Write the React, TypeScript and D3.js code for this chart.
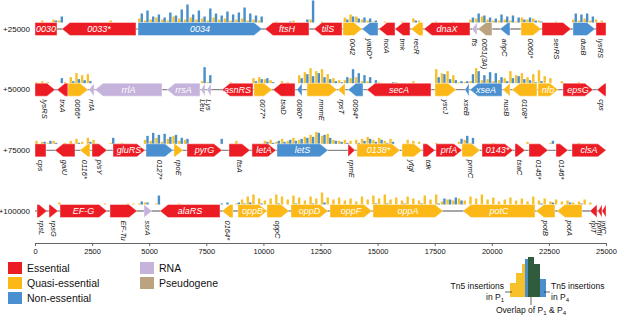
import React, { useEffect, useRef } from 'react';
import * as d3 from 'd3';

const FONT = '"Liberation Sans", Arial, Helvetica, sans-serif';

const ROW_LABELS = ['+25000', '+50000', '+75000', '+100000'];
const AXIS_TICKS = [0, 2500, 5000, 7500, 10000, 12500, 15000, 17500, 20000, 22500, 25000];

const COLORS: Record<string, string> = {
  E: '#EC1C24',
  Q: '#FBB817',
  N: '#4A8FD0',
  R: '#C6B3DC',
  P: '#BCA37F',
};
const HIST_P1 = '#F6C12A';
const HIST_P4 = '#4A8FC9';
const HIST_BOTH = '#2F5C3C';

// [name, start(bp), end(bp), strand (1, -1, 0 = box), class, label inside (1) / below (0)]
type Gene = [string, number, number, number, string, number];

const row1Genes: Gene[] = [
  ['0030', 0, 963, 0, 'E', 1],
  ['0033*', 1182, 4422, -1, 'E', 1],
  ['0034', 4509, 9938, 1, 'N', 1],
  ['ftsH', 10070, 11996, -1, 'E', 1],
  ['tilS', 12215, 13441, -1, 'E', 1],
  ['0042', 13485, 14317, 1, 'Q', 0],
  ['yabD*', 14317, 15017, -1, 'N', 0],
  ['holA', 15061, 15761, -1, 'E', 0],
  ['tmk', 15761, 16418, -1, 'E', 0],
  ['recR', 16462, 16987, -1, 'Q', 0],
  ['dnaX', 17031, 19045, -1, 'E', 1],
  ['ffs', 19132, 19351, -1, 'R', 0],
  ['0051(3A)', 19395, 20008, -1, 'P', 0],
  ['ahpC', 20358, 20796, -1, 'N', 0],
  ['0060*', 21278, 22154, 1, 'Q', 0],
  ['serRS', 22197, 23467, 1, 'E', 0],
  ['dusB', 23555, 24518, 1, 'N', 0],
  ['lysRS', 24562, 25000, 0, 'E', 0],
];

const row2Genes: Gene[] = [
  ['lysRS', 0, 876, 1, 'E', 0],
  ['trxA', 963, 1445, -1, 'E', 0],
  ['0066*', 1445, 2320, 1, 'Q', 0],
  ['rrfA', 2364, 2583, -1, 'R', 0],
  ['rrlA', 2627, 5560, -1, 'R', 1],
  ['rrsA', 5779, 7224, -1, 'R', 1],
  ['Leu', 7267, 7443, -1, 'R', 0],
  ['Lys', 7530, 7705, -1, 'R', 0],
  ['asnRS', 8187, 9544, -1, 'E', 1],
  ['0077*', 9588, 10376, 1, 'Q', 0],
  ['tsaD', 10420, 11383, -1, 'E', 0],
  ['0080*', 11471, 11690, -1, 'N', 0],
  ['mnmE', 11909, 13222, 1, 'Q', 0],
  ['rpsT', 13266, 13572, -1, 'Q', 0],
  ['0094*', 13704, 14361, -1, 'N', 0],
  ['secA', 14536, 17338, -1, 'E', 1],
  ['yscJ', 17513, 18432, 1, 'Q', 0],
  ['xseB', 18826, 19001, -1, 'N', 0],
  ['xseA', 19045, 20446, -1, 'N', 1],
  ['nusB', 20489, 20796, -1, 'Q', 0],
  ['0108*', 20884, 21978, -1, 'Q', 0],
  ['nfo', 22022, 22898, 1, 'Q', 1],
  ['epsG', 23116, 24430, 1, 'E', 1],
  ['cps', 24605, 25000, -1, 'E', 0],
];

const row3Genes: Gene[] = [
  ['cps', 0, 482, 0, 'E', 0],
  ['galU', 876, 1751, -1, 'E', 0],
  ['0116*', 1970, 2408, -1, 'Q', 0],
  ['plsY', 2495, 3152, 1, 'E', 0],
  ['gluRS', 3415, 4816, 1, 'E', 1],
  ['0127*', 4860, 6042, 1, 'N', 0],
  ['rpoE', 6085, 6479, 1, 'Q', 0],
  ['pyrG', 6654, 8187, 1, 'E', 1],
  ['ftsA', 8494, 9413, 1, 'E', 0],
  ['letA', 9500, 10551, 1, 'E', 1],
  ['letS', 10595, 12828, 1, 'N', 1],
  ['rpmE', 13704, 14010, 1, 'E', 0],
  ['0138*', 14098, 15980, 1, 'Q', 1],
  ['yfgI', 16068, 16944, 1, 'Q', 0],
  ['tdk', 16987, 17513, 1, 'E', 0],
  ['prfA', 17556, 18694, 1, 'E', 1],
  ['prmC', 18694, 19482, 1, 'Q', 0],
  ['0143*', 19570, 20927, 1, 'E', 1],
  ['tsaC', 21015, 21453, 1, 'E', 0],
  ['0145*', 21628, 22460, 1, 'E', 0],
  ['0146*', 22810, 23336, 1, 'E', 0],
  ['clsA', 23511, 25000, 1, 'E', 1],
];

const row4Genes: Gene[] = [
  ['rpsL', 88, 525, 1, 'E', 0],
  ['rpsG', 613, 1007, 1, 'E', 0],
  ['EF-G', 1095, 3152, 1, 'E', 1],
  ['EF-Tu', 3283, 4466, 1, 'E', 0],
  ['ssrA', 4772, 5122, 1, 'R', 0],
  ['alaRS', 5473, 8100, -1, 'E', 1],
  ['0164*', 8187, 8669, -1, 'Q', 0],
  ['oppB', 8887, 10157, 1, 'Q', 1],
  ['oppC', 10157, 11120, 1, 'Q', 0],
  ['oppD', 11208, 12828, 1, 'Q', 1],
  ['oppF', 12915, 14754, 1, 'Q', 1],
  ['oppA', 14798, 17863, 1, 'Q', 1],
  ['potC', 18738, 21891, -1, 'Q', 1],
  ['potB', 21935, 22767, -1, 'Q', 0],
  ['potA', 22854, 23949, -1, 'Q', 0],
  ['rplT', 24299, 24605, -1, 'E', 0],
  ['rpmI', 24649, 24824, -1, 'E', 0],
  ['infC', 24824, 25000, -1, 'E', 0],
];

// Tn5 insertion counts per 250-bp bin (100 bins per row)
const row1P1 = [
  0, 2, 0, 3, 2, 0, 0, 0, 0, 0, 0, 0, 0, 2, 0, 0, 0, 0, 4, 2,
  3, 5, 3, 2, 6, 4, 3, 5, 3, 4, 2, 5, 3, 4, 2, 3, 4, 2, 3, 2,
  0, 0, 1, 0, 0, 2, 0, 0, 3, 0, 1, 0, 0, 0, 5, 8, 6, 3, 2, 1,
  0, 1, 0, 0, 1, 0, 4, 2, 0, 0, 1, 0, 0, 1, 0, 0, 3, 4, 6, 3,
  2, 2, 3, 2, 1, 5, 3, 4, 2, 0, 0, 1, 0, 0, 3, 2, 4, 2, 3, 2,
];
const row1P4 = [
  0, 0, 0, 2, 6, 0, 0, 0, 0, 0, 0, 0, 0, 0, 0, 0, 0, 0, 9, 12,
  6, 8, 5, 10, 7, 13, 18, 8, 12, 6, 14, 9, 7, 11, 8, 10, 15, 9, 7, 6,
  0, 0, 0, 0, 1, 0, 0, 3, 22, 0, 0, 0, 0, 0, 3, 6, 4, 5, 4, 2,
  0, 0, 0, 0, 0, 0, 2, 0, 0, 0, 0, 0, 0, 0, 0, 0, 5, 9, 7, 5,
  4, 8, 6, 7, 5, 3, 5, 2, 1, 0, 0, 0, 0, 0, 9, 8, 9, 6, 0, 0,
];
const row2P1 = [
  1, 2, 1, 0, 0, 1, 6, 10, 8, 9, 0, 0, 0, 0, 0, 0, 0, 0, 0, 0,
  0, 0, 0, 0, 0, 0, 0, 0, 0, 2, 1, 0, 0, 0, 1, 0, 0, 0, 5, 6,
  4, 3, 0, 2, 1, 0, 8, 11, 15, 12, 14, 9, 5, 3, 3, 5, 6, 2, 2, 0,
  1, 0, 0, 1, 0, 0, 2, 0, 0, 0, 14, 10, 12, 8, 1, 1, 2, 15, 3, 4,
  2, 3, 5, 12, 8, 10, 6, 9, 13, 7, 5, 0, 2, 0, 0, 1, 0, 0, 0, 0,
];
const row2P4 = [
  0, 0, 0, 0, 5, 0, 2, 4, 3, 2, 0, 0, 0, 0, 0, 0, 0, 0, 0, 0,
  0, 0, 0, 0, 0, 0, 0, 0, 0, 16, 8, 0, 0, 0, 0, 0, 0, 0, 2, 4,
  5, 1, 0, 0, 0, 0, 5, 9, 7, 10, 6, 4, 2, 1, 6, 14, 10, 8, 6, 3,
  0, 0, 1, 0, 0, 0, 0, 0, 0, 0, 6, 9, 4, 3, 2, 2, 9, 12, 8, 11,
  10, 6, 2, 5, 7, 4, 3, 1, 2, 0, 0, 0, 0, 0, 0, 0, 0, 0, 0, 0,
];
const row3P1 = [
  3, 2, 1, 3, 0, 1, 3, 5, 2, 6, 4, 0, 0, 1, 0, 1, 0, 0, 0, 4,
  3, 6, 2, 5, 8, 3, 4, 0, 0, 0, 0, 0, 0, 0, 0, 3, 0, 0, 0, 0,
  3, 4, 2, 5, 3, 6, 4, 7, 9, 12, 8, 10, 4, 3, 4, 3, 4, 5, 7, 4,
  6, 3, 5, 0, 0, 4, 3, 2, 0, 0, 1, 0, 0, 0, 2, 4, 1, 0, 0, 0,
  1, 0, 0, 0, 0, 0, 2, 0, 0, 0, 1, 0, 0, 0, 0, 1, 0, 0, 0, 0,
];
const row3P4 = [
  0, 2, 3, 1, 0, 0, 0, 1, 0, 2, 0, 0, 0, 6, 0, 0, 0, 0, 0, 8,
  11, 9, 10, 7, 9, 6, 5, 0, 0, 0, 0, 0, 5, 0, 0, 0, 0, 0, 0, 0,
  2, 1, 3, 2, 4, 3, 5, 6, 7, 11, 9, 6, 3, 2, 1, 0, 1, 3, 5, 2,
  4, 1, 2, 0, 0, 0, 0, 0, 0, 0, 0, 0, 0, 0, 5, 8, 6, 0, 0, 0,
  0, 0, 0, 0, 0, 0, 0, 0, 0, 0, 3, 0, 0, 0, 0, 0, 0, 0, 0, 0,
];
const row4P1 = [
  0, 0, 0, 0, 2, 0, 0, 0, 0, 0, 0, 0, 1, 0, 0, 0, 1, 1, 1, 2,
  0, 1, 0, 0, 0, 1, 0, 0, 0, 0, 0, 0, 0, 0, 0, 1, 5, 8, 10, 6,
  4, 6, 10, 8, 5, 9, 7, 4, 8, 6, 12, 7, 5, 7, 4, 6, 3, 8, 5, 9,
  6, 10, 5, 7, 4, 8, 6, 4, 9, 5, 10, 3, 5, 4, 6, 4, 8, 6, 10, 5,
  7, 3, 5, 7, 4, 6, 3, 8, 4, 6, 3, 5, 3, 4, 2, 3, 5, 2, 0, 0,
];
const row4P4 = [
  0, 0, 0, 0, 0, 0, 0, 0, 0, 0, 0, 0, 0, 0, 0, 0, 0, 0, 3, 2,
  0, 9, 0, 0, 0, 0, 0, 0, 0, 0, 0, 0, 1, 2, 0, 2, 1, 2, 0, 1,
  0, 0, 1, 0, 0, 1, 0, 0, 1, 0, 2, 0, 0, 0, 0, 0, 0, 0, 0, 1,
  0, 1, 0, 0, 1, 0, 0, 1, 0, 0, 1, 6, 5, 7, 4, 0, 0, 0, 0, 0,
  0, 0, 0, 0, 0, 0, 0, 0, 1, 0, 2, 0, 0, 2, 0, 1, 0, 0, 0, 0,
];

const BIN_BP = 250;

const legendLeft = [
  ['Essential', 'E'],
  ['Quasi-essential', 'Q'],
  ['Non-essential', 'N'],
];
const legendRight = [
  ['RNA', 'R'],
  ['Pseudogene', 'P'],
];

// schematic key bars
const keyP1 = [14, 24, 33, 0, 0, 0];
const keyP4 = [0, 0, 38, 0, 28, 18];
const keyBoth = [0, 0, 0, 40, 33, 0];

const ROWS = [
  { label: ROW_LABELS[0], genes: row1Genes, p1: row1P1, p4: row1P4 },
  { label: ROW_LABELS[1], genes: row2Genes, p1: row2P1, p4: row2P4 },
  { label: ROW_LABELS[2], genes: row3Genes, p1: row3P1, p4: row3P4 },
  { label: ROW_LABELS[3], genes: row4Genes, p1: row4P1, p4: row4P4 },
];

const GENE_H = 13;
const HEAD = 8;

function genePath(x0: number, x1: number, yc: number, strand: number) {
  const yt = yc - GENE_H / 2;
  const yb = yc + GENE_H / 2;
  const hl = Math.min(HEAD, x1 - x0);
  const p = d3.path();
  if (strand === 1) {
    p.moveTo(x0, yt);
    p.lineTo(x1 - hl, yt);
    p.lineTo(x1, yc);
    p.lineTo(x1 - hl, yb);
    p.lineTo(x0, yb);
  } else if (strand === -1) {
    p.moveTo(x1, yt);
    p.lineTo(x0 + hl, yt);
    p.lineTo(x0, yc);
    p.lineTo(x0 + hl, yb);
    p.lineTo(x1, yb);
  } else {
    p.rect(x0, yt, x1 - x0, GENE_H);
  }
  p.closePath();
  return p.toString();
}

export default function App() {
  const axisRef = useRef<SVGGElement>(null);
  const x = d3.scaleLinear().domain([0, 25000]).range([35, 606]);
  const hy = d3.scaleLinear().domain([0, 22]).range([0, 22]);
  const rowY = d3.scaleLinear().domain([0, 3]).range([29, 211]);
  const keyH = d3.scaleLinear().domain([0, 40]).range([0, 40]);

  useEffect(() => {
    if (!axisRef.current) return;
    const g = d3.select(axisRef.current);
    g.selectAll('*').remove();
    g.call(
      d3
        .axisBottom(x)
        .tickValues(AXIS_TICKS)
        .tickSize(3)
        .tickSizeOuter(0)
        .tickPadding(3)
        .tickFormat(d3.format('d')) as any
    );
    g.select('.domain').attr('stroke', '#666');
    g.selectAll('.tick line').attr('stroke', '#666');
    g.selectAll('.tick text')
      .attr('font-size', 7.5)
      .attr('font-family', FONT)
      .attr('fill', '#111');
  }, []);

  return (
    <svg
      width={617}
      height={318}
      style={{ position: 'absolute', left: 0, top: 0, background: '#fff' }}
      fontFamily={FONT}
    >
      {ROWS.map((row, ri) => {
        const yc = rowY(ri);
        const top = yc - GENE_H / 2;
        return (
          <g key={ri}>
            <text x={30} y={yc} dy="0.35em" textAnchor="end" fontSize={8} fill="#111">
              {row.label}
            </text>
            {/* insertion histograms */}
            {row.p1.map((v, i) =>
              v > 0 ? (
                <rect
                  key={'a' + i}
                  x={x(i * BIN_BP) + 0.3}
                  y={top - hy(v)}
                  width={2.4}
                  height={hy(v)}
                  fill={HIST_P1}
                />
              ) : null
            )}
            {row.p4.map((v, i) =>
              v > 0 ? (
                <rect
                  key={'b' + i}
                  x={x(i * BIN_BP) + 2.8}
                  y={top - hy(v)}
                  width={2.4}
                  height={hy(v)}
                  fill={HIST_P4}
                />
              ) : null
            )}
            {/* backbone */}
            <line x1={x(0)} x2={x(25000)} y1={yc} y2={yc} stroke="#8a8a8a" strokeWidth={1.3} />
            {row.genes.map((g, gi) => {
              const [name, s, e, strand, cls, inside] = g;
              const x0 = x(s);
              const x1 = x(e);
              const cx = (x0 + x1) / 2;
              return (
                <g key={gi}>
                  <path d={genePath(x0, x1, yc, strand)} fill={COLORS[cls]} stroke="#fff" strokeWidth={0.4} />
                  {inside ? (
                    <text
                      x={cx}
                      y={yc}
                      dy="0.35em"
                      textAnchor="middle"
                      fontSize={9}
                      fontStyle="italic"
                      fill="#fff"
                    >
                      {name}
                    </text>
                  ) : (
                    <text
                      transform={`translate(${cx},${yc + GENE_H / 2 + 3}) rotate(90)`}
                      dy="0.35em"
                      fontSize={7.5}
                      fontStyle="italic"
                      fill="#111"
                    >
                      {name}
                    </text>
                  )}
                </g>
              );
            })}
          </g>
        );
      })}

      <g ref={axisRef} transform="translate(0,243)" />

      {/* legend */}
      {legendLeft.map(([label, c], i) => (
        <g key={label} transform={`translate(8,${262 + i * 15})`}>
          <rect width={14} height={12} fill={COLORS[c]} />
          <text x={19} y={6} dy="0.35em" fontSize={10.5} fill="#111">
            {label}
          </text>
        </g>
      ))}
      {legendRight.map(([label, c], i) => (
        <g key={label} transform={`translate(140,${262 + i * 15})`}>
          <rect width={14} height={12} fill={COLORS[c]} />
          <text x={19} y={6} dy="0.35em" fontSize={10.5} fill="#111">
            {label}
          </text>
        </g>
      ))}

      {/* schematic key */}
      <g>
        {keyP1.map((v, i) =>
          v > 0 ? <rect key={'k1' + i} x={510 + i * 6} y={297 - keyH(v)} width={6} height={keyH(v)} fill={HIST_P1} /> : null
        )}
        {keyP4.map((v, i) =>
          v > 0 ? <rect key={'k4' + i} x={510 + i * 6 + (i === 2 ? 3 : 0)} y={297 - keyH(v)} width={i === 2 ? 3 : 6} height={keyH(v)} fill={HIST_P4} /> : null
        )}
        {keyBoth.map((v, i) =>
          v > 0 ? <rect key={'kb' + i} x={510 + i * 6} y={297 - keyH(v)} width={6} height={keyH(v)} fill={HIST_BOTH} /> : null
        )}
        <line x1={505} x2={512} y1={292} y2={292} stroke="#222" strokeWidth={0.7} />
        <line x1={544} x2={550} y1={292} y2={292} stroke="#222" strokeWidth={0.7} />
        <line x1={531} x2={531} y1={297} y2={305} stroke="#222" strokeWidth={0.7} />
        <text x={504} y={289} textAnchor="end" fontSize={8.5} fill="#111">Tn5 insertions</text>
        <text x={504} y={300} textAnchor="end" fontSize={8.5} fill="#111">
          in P<tspan fontSize={6} dy={2}>1</tspan>
        </text>
        <text x={551} y={289} fontSize={8.5} fill="#111">Tn5 insertions</text>
        <text x={551} y={300} fontSize={8.5} fill="#111">
          in P<tspan fontSize={6} dy={2}>4</tspan>
        </text>
        <text x={531} y={313} textAnchor="middle" fontSize={8.5} fill="#111">
          Overlap of P<tspan fontSize={6} dy={2}>1</tspan>
          <tspan dy={-2}> &amp; P</tspan>
          <tspan fontSize={6} dy={2}>4</tspan>
        </text>
      </g>
    </svg>
  );
}
